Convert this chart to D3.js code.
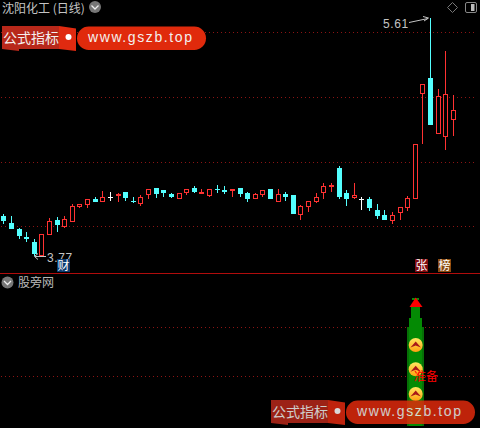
<!DOCTYPE html>
<html><head><meta charset="utf-8">
<script src="https://cdnjs.cloudflare.com/ajax/libs/d3/7.8.5/d3.min.js"></script>
<style>html,body{margin:0;padding:0;background:#000}svg{display:block}text{font-family:"Noto Sans CJK SC","Liberation Sans",sans-serif}</style>
</head><body><svg id="c" width="480" height="428"></svg>
<script>
const title="沈阳化工 (日线)", subTitle="股旁网", wmLeft="公式指标", wmRight="www.gszb.top";
const opens=[4.079,4.025,3.979,3.915,3.878,3.77,3.935,4.048,3.994,4.035,4.149,4.167,4.208,4.19,4.226,4.239,4.262,4.195,4.174,4.244,4.296,4.278,4.249,4.213,4.259,4.296,4.252,4.236,4.286,4.28,4.272,4.296,4.257,4.211,4.242,4.288,4.187,4.249,4.242,4.087,4.149,4.187,4.257,4.303,4.45,4.257,4.218,4.211,4.211,4.126,4.087,4.041,4.102,4.141,4.211,5.022,5.146,4.713,4.69,4.821];
const closes=[4.041,3.981,3.925,3.904,3.785,3.938,4.038,4.01,4.054,4.154,4.17,4.208,4.187,4.224,4.226,4.252,4.216,4.185,4.226,4.286,4.249,4.257,4.226,4.255,4.286,4.267,4.265,4.286,4.282,4.265,4.288,4.249,4.211,4.247,4.278,4.211,4.249,4.226,4.095,4.157,4.195,4.226,4.311,4.319,4.226,4.211,4.242,4.211,4.141,4.079,4.048,4.087,4.149,4.218,4.636,5.1,4.783,5.007,5.022,4.899];
const highs=[4.095,4.079,3.984,3.956,3.901,3.938,4.061,4.071,4.079,4.172,4.17,4.208,4.226,4.272,4.265,4.257,4.262,4.226,4.242,4.286,4.296,4.278,4.257,4.255,4.286,4.311,4.288,4.286,4.319,4.311,4.288,4.296,4.265,4.257,4.278,4.288,4.288,4.265,4.242,4.164,4.195,4.257,4.334,4.334,4.466,4.28,4.334,4.226,4.226,4.172,4.126,4.11,4.149,4.234,4.636,5.1,5.61,5.061,5.355,5.015];
const lows=[4.02,3.981,3.901,3.881,3.77,3.77,3.935,3.956,3.986,4.035,4.141,4.141,4.187,4.19,4.195,4.187,4.197,4.177,4.157,4.211,4.218,4.226,4.218,4.213,4.242,4.257,4.252,4.226,4.257,4.249,4.226,4.226,4.187,4.211,4.226,4.211,4.187,4.195,4.095,4.048,4.11,4.18,4.211,4.265,4.211,4.157,4.211,4.126,4.118,4.056,4.048,4.017,4.048,4.118,4.211,4.636,4.783,4.713,4.589,4.698];
const priceGrid=[5.4,4.9,4.4,3.9], indicatorMarks=[1,2,3], indicatorGrid=[2,1];

const svg=d3.select("#c");
const x=d3.scaleLinear().domain([0,59]).range([3.8,453.38]);
const y=d3.scaleLinear().domain([3.77,5.61]).range([256,18]);
const yi=d3.scaleLinear().domain([1,2]).range([376,327]);
const px=i=>Math.floor(x(i))+.5, py=v=>Math.round(y(v));
const RED="#ff3232", CY="#54ffff", GRID="#8c1414";

svg.append("rect").attr("width",480).attr("height",428).attr("fill","#000");
// grid
const grid=svg.append("g").attr("stroke",GRID).attr("stroke-dasharray","1 3").attr("shape-rendering","crispEdges");
const gridY=[32.5,97.5,162.5,226.5];
grid.selectAll(".p").data(priceGrid).join("line").attr("x1",1).attr("x2",477).attr("y1",(d,i)=>gridY[i]).attr("y2",(d,i)=>gridY[i]);
grid.selectAll(".i").data(indicatorGrid).join("line").attr("x1",1).attr("x2",477).attr("y1",d=>Math.round(yi(d))+.5).attr("y2",d=>Math.round(yi(d))+.5);
svg.append("rect").attr("x",0).attr("y",273).attr("width",480).attr("height",1).attr("fill","#b00c0c");

// candles
const data=opens.map((o,i)=>({i,o,c:closes[i],h:highs[i],l:lows[i]}));
const col=d=>d.c===d.o?"#ffffff":d.c>d.o?RED:CY;
const cg=svg.append("g").attr("shape-rendering","crispEdges");
cg.selectAll(".w").data(data).join("line").attr("x1",d=>px(d.i)).attr("x2",d=>px(d.i)).attr("y1",d=>py(d.h)).attr("y2",d=>py(d.l)).attr("stroke",col);
cg.selectAll(".b").data(data).join("rect")
 .attr("x",d=>d.c>d.o?px(d.i)-2:px(d.i)-2.5)
 .attr("width",d=>d.c>d.o?4:5)
 .attr("y",d=>{const t=py(Math.max(d.o,d.c));return d.c>d.o?t+.5:t;})
 .attr("height",d=>{const h=py(Math.min(d.o,d.c))-py(Math.max(d.o,d.c));return d.c>d.o?Math.max(h-1,1):Math.max(h,1);})
 .attr("fill",d=>d.c>d.o?"#000":col(d))
 .attr("stroke",d=>d.c>d.o?RED:"none");

// header
svg.append("text").attr("x",2).attr("y",13).attr("font-size",12).attr("fill","#c4c4c4").text(title);
svg.append("text").attr("x",18).attr("y",287).attr("font-size",12).attr("fill","#b8b8b8").text(subTitle);
function chev(cx,cy){
 svg.append("circle").attr("cx",cx).attr("cy",cy).attr("r",6).attr("fill","#777");
 svg.append("path").attr("d",`M${cx-3.5},${cy-1.5}L${cx},${cy+2}L${cx+3.5},${cy-1.5}`).attr("fill","none").attr("stroke","#eee").attr("stroke-width",1.3);
}
chev(95,7); chev(7.5,282.5);
svg.append("path").attr("d","M452.5,2.5L457.5,7.5L452.5,12.5L447.5,7.5Z").attr("fill","none").attr("stroke","#777");
svg.append("rect").attr("x",465.5).attr("y",2.5).attr("width",11).attr("height",10).attr("rx",1.5).attr("fill","none").attr("stroke","#888");
svg.append("rect").attr("x",471).attr("y",4).attr("width",3.5).attr("height",7).attr("fill","#bbb");

// price labels
const lab=(t,xx,yy)=>svg.append("text").attr("x",xx).attr("y",yy).attr("font-size",12).attr("letter-spacing",.6).attr("fill","#c4c4c4").attr("style",'font-family:"Liberation Sans"').text(t);
lab(d3.max(highs).toFixed(2),383,28);
lab(d3.min(lows).toFixed(2),47,262);
svg.append("path").attr("d","M409,22.5L428,18.5M423,16.5L428.5,18L424,21").attr("fill","none").attr("stroke","#c4c4c4");
svg.append("path").attr("d","M46,256.5L35,256.5M38,253.5L34.5,256.5L38,259.5").attr("fill","none").attr("stroke","#c4c4c4");

// badges
function badge(t,xx,bg){
 svg.append("rect").attr("x",xx).attr("y",259).attr("width",13).attr("height",13).attr("fill",bg);
 svg.append("text").attr("x",xx+6.5).attr("y",270).attr("text-anchor","middle").attr("font-size",12).attr("fill","#fff").text(t);
}
badge("财",57,"#0b3a6e"); badge("张",415,"#800c10"); badge("榜",438,"#8a4a10");

// indicator
const ig=svg.append("g").attr("shape-rendering","crispEdges");
[[411,9,306,318],[409,13,318,327],[407,17,327,426]].forEach(([a,w,t,b])=>{
 ig.append("rect").attr("x",a).attr("y",t).attr("width",w).attr("height",b-t).attr("fill","#048a04");
});
ig.append("rect").attr("x",412).attr("y",298).attr("width",7).attr("height",2).attr("fill","#0a8a0a");
ig.append("rect").attr("x",407).attr("y",327).attr("width",2).attr("height",99).attr("fill","#067006");
ig.append("rect").attr("x",422).attr("y",327).attr("width",2).attr("height",99).attr("fill","#067006");
svg.append("path").attr("d","M415.7,297.5L422.5,307L409.5,307Z").attr("fill","#f00");
const defs=svg.append("defs");
const gr=defs.append("linearGradient").attr("id","ball").attr("x1",0).attr("y1",0).attr("x2",0).attr("y2",1);
gr.append("stop").attr("offset",0).attr("stop-color","#ffe860");
gr.append("stop").attr("offset",1).attr("stop-color","#ffa010");
const ballY=[345,369.3,394];
indicatorMarks.forEach((m,i)=>{
 const cy=ballY[i];
 svg.append("circle").attr("cx",415.7).attr("cy",cy).attr("r",7).attr("fill","url(#ball)");
 svg.append("path").attr("d",`M410.5,${cy+2.5}L415.7,${cy-3.5}L420.9,${cy+2.5}L415.7,${cy+0.5}Z`).attr("fill","#a81818");
});
svg.append("text").attr("x",414).attr("y",381).attr("font-size",12).attr("fill","#f00").text("准备");

// watermarks
function wm(dx,dy,op){
 const g=svg.append("g").attr("transform",`translate(${dx},${dy})`).attr("opacity",op);
 g.append("path").attr("d","M2,26L59,26L59,49L19,49L19,51L2,49Z").attr("fill","#b8281a");
 g.append("path").attr("d","M59,26L76,28.5L76,51L59,49Z").attr("fill","#e02a10");
 g.append("rect").attr("x",77).attr("y",26.5).attr("width",129).attr("height",23.5).attr("rx",11.7).attr("fill","#e02a0c");
 g.append("text").attr("x",3).attr("y",43).attr("font-size",14).attr("fill","#f4f0ee").text(wmLeft);
 g.append("circle").attr("cx",68.5).attr("cy",37).attr("r",3).attr("fill","#fff");
 g.append("text").attr("x",88).attr("y",42).attr("font-size",14).attr("letter-spacing",1.6).attr("fill","#f4f0ee").attr("style",'font-family:"Liberation Sans"').text(wmRight);
}
wm(0,0,1); wm(269,374,.85);
</script></body></html>
